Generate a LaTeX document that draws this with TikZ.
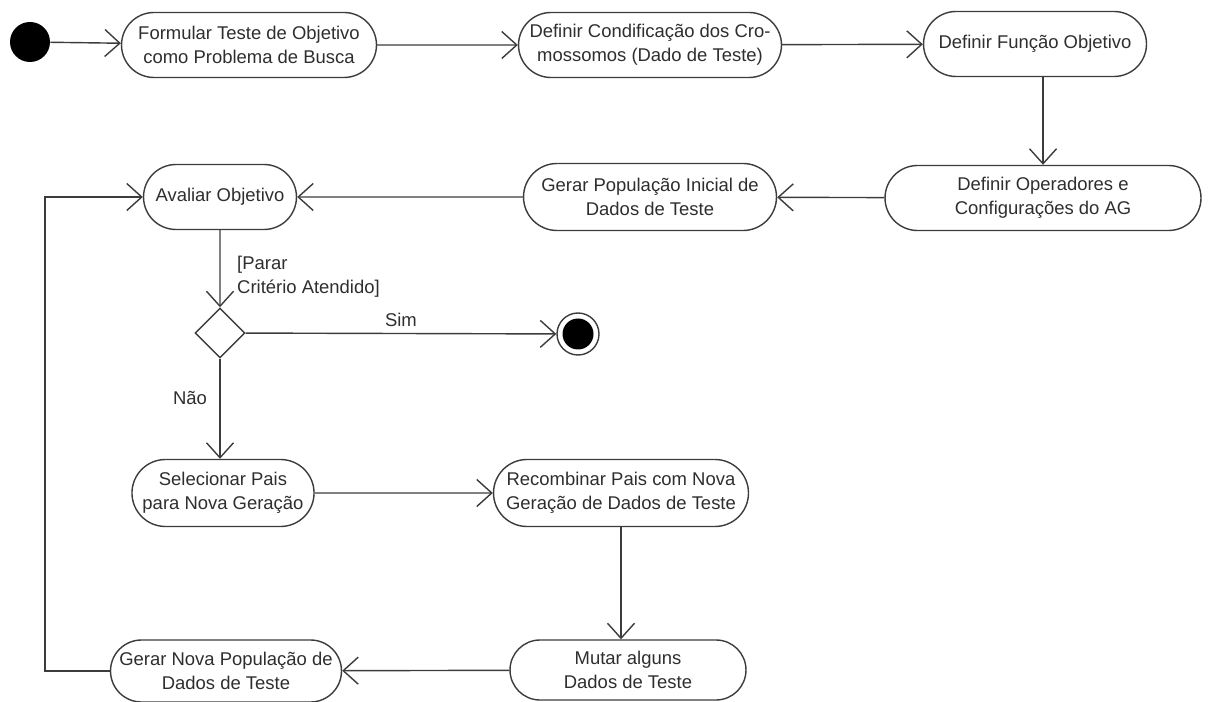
\documentclass[tikz,border=0pt]{standalone}
\usepackage{fontspec}
\setmainfont{Liberation Sans}
\usetikzlibrary{arrows.meta,shapes.misc,shapes.geometric}

\definecolor{linegray}{HTML}{3C3C3C}
\definecolor{textgray}{HTML}{2E2E2E}

\tikzset{
        activity/.style={rounded rectangle, draw=linegray, line width=0.8pt,
                minimum height=1.3cm, align=center, text=textgray,
                font=\fontsize{10.5}{13.5}\selectfont, inner sep=2pt},
        decision/.style={diamond, draw=linegray, line width=0.8pt,
                minimum width=1cm, minimum height=1cm, inner sep=0pt},
        flow/.style={draw=linegray, line width=0.8pt,
                -{Straight Barb[length=3mm,width=5.4mm,line width=0.8pt]}},
        guard/.style={text=textgray, font=\fontsize{10.5}{13.5}\selectfont}
}

\begin{document}
\begin{tikzpicture}

        \useasboundingbox (0,0) rectangle (24.2,-14.04);

        \node[circle, fill=black, minimum size=0.8cm, inner sep=0pt] (start) at (0.6,-0.84) {};

        \node[activity, minimum width=5.24cm] (formular) at (4.98,-0.9)
                {Formular Teste de Objetivo\\como Problema de Busca};
        \node[activity, minimum width=5.4cm] (codificacao) at (13.0,-0.9)
                {Definir Condificação dos Cro-\\mossomos (Dado de Teste)};
        \node[activity, minimum width=4.6cm] (funcao) at (20.7,-0.88)
                {Definir Função Objetivo};
        \node[activity, minimum width=6.46cm] (operadores) at (20.86,-3.96)
                {Definir Operadores e\\Configurações do AG};
        \node[activity, minimum width=5.2cm, minimum height=1.34cm] (popinicial) at (13.0,-3.94)
                {Gerar População Inicial de\\Dados de Teste};
        \node[activity, minimum width=3.2cm] (avaliar) at (4.4,-3.94)
                {Avaliar Objetivo};

        \node[decision] (parar) at (4.4,-6.66) {};
        \node[circle, draw=linegray, line width=0.8pt, minimum size=0.84cm, inner sep=0pt] (fim) at (11.56,-6.68) {};
        \fill (fim) circle (0.31);

        \node[activity, minimum width=3.46cm, minimum height=1.34cm] (selecionar) at (4.46,-9.86)
                {Selecionar Pais\\para Nova Geração};
        \node[activity, minimum width=5.24cm, minimum height=1.34cm] (recombinar) at (12.42,-9.86)
                {Recombinar Pais com Nova\\Geração de Dados de Teste};
        \node[activity, minimum width=4.86cm, minimum height=1.2cm] (mutar) at (12.56,-13.4)
                {Mutar alguns\\Dados de Teste};
        \node[activity, minimum width=4.76cm, minimum height=1.24cm] (novapop) at (4.52,-13.42)
                {Gerar Nova População de\\Dados de Teste};

        \coordinate (volta) at (0.9,-13.42);

        \draw[flow] (start) -- (formular);
        \draw[flow] (formular) -- (codificacao);
        \draw[flow] (codificacao) -- (funcao);
        \draw[flow] (funcao.south -| operadores.north) -- (operadores.north);
        \draw[flow] (operadores) -- (popinicial);
        \draw[flow] (popinicial) -- (avaliar);
        \draw[flow] (avaliar) -- (parar);
        \draw[flow] (parar) -- node[guard, above, pos=0.5] {Sim} (fim);
        \draw[flow] (parar.south) -- (parar.south |- selecionar.north);
        \draw[flow] (selecionar) -- (recombinar);
        \draw[flow] (recombinar.south) -- (recombinar.south |- mutar.north);
        \draw[flow] (mutar) -- (novapop);
        \draw[flow] (novapop.west) -- (volta) |- (avaliar.west);

        \node[guard, anchor=north west, align=left] (criterio) at (4.62,-5.0)
                {[Parar\\Critério Atendido]};
        \node[guard] (nao) at (3.8,-7.96) {Não};

\end{tikzpicture}
\end{document}
